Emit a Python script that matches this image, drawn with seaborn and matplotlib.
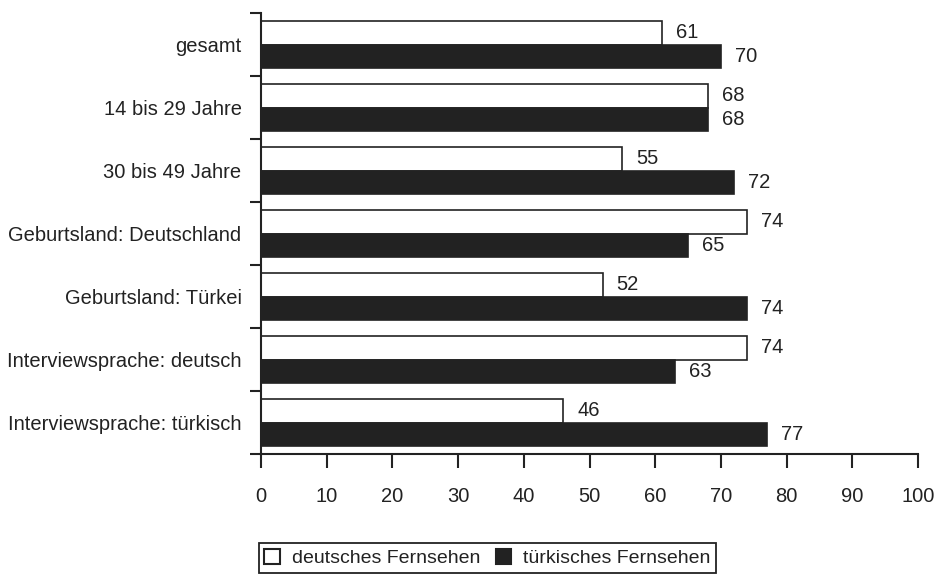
import matplotlib.pyplot as plt
import pandas as pd
import seaborn as sns
from matplotlib.patches import Patch

# data
categories = [
    "gesamt",
    "14 bis 29 Jahre",
    "30 bis 49 Jahre",
    "Geburtsland: Deutschland",
    "Geburtsland: Türkei",
    "Interviewsprache: deutsch",
    "Interviewsprache: türkisch",
]
deutsch = [61, 68, 55, 74, 52, 74, 46]
tuerkisch = [70, 68, 72, 65, 74, 63, 77]
series = ["deutsches Fernsehen", "türkisches Fernsehen"]
colors = ["white", "#222222"]
xticks = list(range(0, 101, 10))

df = pd.DataFrame({
    "Gruppe": categories * 2,
    "Anteil": deutsch + tuerkisch,
    "Sender": [series[0]] * len(deutsch) + [series[1]] * len(tuerkisch),
})

sns.set_theme(style="white")
plt.rcParams["font.family"] = ["Liberation Sans", "DejaVu Sans"]
fs = 14.5

fig = plt.figure(figsize=(9.37, 5.78), dpi=100)
ax = fig.add_axes([0.2786, 0.2145, 0.7011, 0.763])

sns.barplot(
    data=df, y="Gruppe", x="Anteil", hue="Sender",
    palette=colors, saturation=1, width=0.76,
    edgecolor="#222222", linewidth=1.2, legend=False, ax=ax,
)

for cont in ax.containers:
    ax.bar_label(cont, padding=10, fontsize=fs, color="#222222")

# axes
ax.set_xlim(0, 100)
ax.set_ylim(len(categories) - 0.5, -0.5)
ax.set_xticks(xticks)
ax.set_yticks(range(len(categories)))
ax.set_yticklabels(categories)
ax.set_yticks([i - 0.5 for i in range(len(categories) + 1)], minor=True)
ax.set_xlabel("")
ax.set_ylabel("")

ax.tick_params(axis="x", bottom=True, direction="out", length=10, width=1.5,
               pad=14, labelsize=fs, colors="#222222")
ax.tick_params(axis="y", which="major", left=True, length=0, pad=14,
               labelsize=fs, colors="#222222")
ax.tick_params(axis="y", which="minor", left=True, direction="out",
               length=8, width=1.5, color="#222222")

for s in ["top", "right"]:
    ax.spines[s].set_visible(False)
for s in ["left", "bottom"]:
    ax.spines[s].set_color("#222222")
    ax.spines[s].set_linewidth(1.5)

# legend
handles = [Patch(facecolor=c, edgecolor="#222222", linewidth=1.5) for c in colors]
leg = fig.legend(
    handles, series, loc="center", bbox_to_anchor=(0.52, 0.035), ncol=2,
    frameon=True, fancybox=False, edgecolor="#222222", framealpha=1,
    handlelength=0.8, handleheight=0.8, handletextpad=0.6,
    columnspacing=0.8, borderpad=0.3, fontsize=14,
)
leg.get_frame().set_linewidth(1.3)
for t in leg.get_texts():
    t.set_color("#222222")

fig.savefig("out.png", dpi=100)
